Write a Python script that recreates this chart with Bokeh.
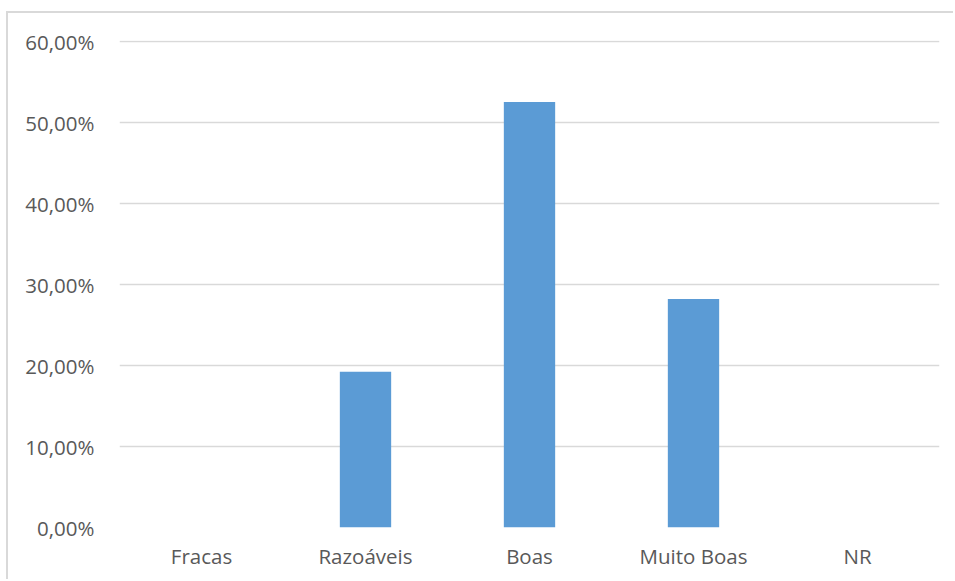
from bokeh.plotting import figure
from bokeh.models import FactorRange, Range1d, FixedTicker, CustomJSTickFormatter, ColumnDataSource
from bokeh.embed import file_html
from bokeh.resources import INLINE

# Avaliação das respostas (percentagem de respondentes)
categorias = ["Fracas", "Razoáveis", "Boas", "Muito Boas", "NR"]
percentagens = [0.0, 19.23, 52.56, 28.21, 0.0]
ticks_y = [0, 10, 20, 30, 40, 50, 60]

source = ColumnDataSource(data=dict(cat=categorias, pct=percentagens))

p = figure(
    x_range=FactorRange(*categorias, range_padding=0),
    y_range=Range1d(0, 60.15),
    width=947, height=568,
    output_backend="svg", toolbar_location=None,
    min_border_left=111, min_border_right=16,
    min_border_top=27, min_border_bottom=54,
)
p.styles = {
    "margin-left": "6px",
    "margin-top": "11px",
    "border-left": "2px solid #d9d9d9",
    "border-top": "2px solid #d9d9d9",
}

p.vbar(x="cat", top="pct", width=0.313, source=source,
       fill_color="#5b9bd5", line_color=None)

p.outline_line_color = None
p.background_fill_color = "white"
p.border_fill_color = "white"

p.xgrid.grid_line_color = None
p.ygrid.grid_line_color = "#d9d9d9"
p.ygrid.grid_line_width = 1.5
p.ygrid.ticker = FixedTicker(ticks=ticks_y)

p.yaxis.ticker = FixedTicker(ticks=ticks_y)
p.yaxis.formatter = CustomJSTickFormatter(
    code="return tick.toFixed(2).replace('.', ',') + '%';")

for ax in (p.xaxis[0], p.yaxis[0]):
    ax.axis_line_color = None
    ax.major_tick_line_color = None
    ax.minor_tick_line_color = None
    ax.major_label_text_font = "Open Sans"
    ax.major_label_text_font_size = "20.5px"
    ax.major_label_text_color = "#595959"

p.yaxis.major_label_standoff = 19
p.xaxis.major_label_standoff = 8

open("out.html", "w").write(file_html(p, INLINE))
